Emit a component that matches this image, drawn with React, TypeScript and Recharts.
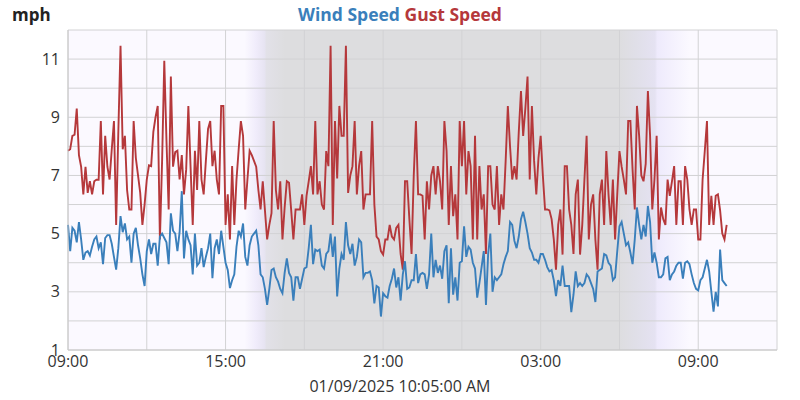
import { LineChart, Line, XAxis, YAxis, CartesianGrid } from "recharts";

// 5-minute samples starting 09:00, ending 10:05 next day
const windSpeed = [
  5.3, 4.4, 5.2, 5.1, 4.7, 5.4, 4.8, 4.1, 4.35, 4.4,
  4.25, 4.55, 4.8, 4.9, 4.5, 4.7, 3.95, 4.85, 4.95, 4.95,
  4.65, 4.2, 3.76, 4.5, 5.6, 5.05, 5.35, 4.8, 4.9, 4.0,
  5.0, 5.2, 4.6, 4.15, 3.6, 3.2, 4.4, 4.8, 4.3, 4.65,
  4.65, 3.9, 4.9, 5.0, 4.85, 4.7, 3.95, 5.7, 5.1, 5.0,
  4.4, 5.05, 6.46, 4.15, 5.1, 4.8, 4.6, 3.6, 5.0, 3.9,
  4.0, 4.5, 3.85, 4.2, 4.5, 5.0, 3.47, 4.5, 4.8, 4.3,
  5.1, 4.55, 4.0, 3.75, 3.13, 3.4, 3.6, 4.55, 5.1, 4.9,
  5.35, 4.2, 3.9, 4.6, 4.9, 5.0, 5.1, 4.6, 3.6, 3.5,
  3.1, 2.55, 3.1, 3.75, 3.8, 3.5, 3.35, 3.1, 2.95, 3.65,
  4.15, 3.65, 3.5, 2.7, 3.5, 3.5, 3.1, 3.45, 3.8, 3.85,
  4.5, 5.3, 3.95, 4.45, 4.4, 4.45, 3.9, 3.8, 4.3, 4.4,
  5.0, 4.2, 4.9, 2.84, 3.8, 4.3, 4.1, 5.4, 4.6, 4.3,
  4.65, 3.9, 4.2, 4.8, 4.7, 3.5, 3.65, 3.65, 3.7, 3.4,
  2.6, 3.2, 3.15, 2.15, 2.95, 2.85, 2.8, 3.2, 3.45, 3.8,
  3.15, 3.5, 2.7, 3.6, 4.05, 3.1, 3.15, 3.4, 3.4, 4.3,
  3.3, 3.6, 3.65, 3.6, 3.1, 3.6, 5.0, 3.5, 4.1, 3.65,
  3.9, 3.45, 4.4, 4.6, 2.61, 4.5, 2.9, 3.5, 2.7, 4.0,
  4.05, 5.25, 4.2, 4.55, 4.45, 4.0, 3.8, 2.8, 3.3, 3.85,
  4.4, 2.55, 4.3, 5.0, 3.0, 3.5, 3.4, 3.5, 3.6, 3.95,
  4.2, 4.4, 5.4, 5.3, 4.75, 4.5, 4.9, 5.5, 5.75, 5.4,
  5.0, 4.5, 4.35, 4.1, 4.1, 4.0, 4.3, 4.3, 4.1, 3.85,
  3.7, 3.75, 3.4, 2.85, 3.4, 3.2, 3.9, 3.2, 3.2, 3.2,
  2.3, 2.9, 3.7, 3.2, 3.3, 3.2, 3.3, 3.6, 3.5, 3.3,
  3.1, 2.65, 3.7, 3.75, 3.8, 4.3, 4.25, 4.0, 3.9, 3.4,
  3.5, 4.4, 5.25, 5.4, 5.0, 4.6, 4.7, 4.35, 3.95, 4.8,
  5.9, 5.3, 4.8, 5.3, 4.9, 5.95, 5.4, 4.0, 4.35, 4.0,
  3.5, 3.5, 3.6, 4.15, 4.2, 3.4, 3.6, 3.7, 3.9, 4.0,
  4.0, 3.45, 4.0, 4.05, 3.95, 3.6, 3.3, 3.1, 3.05, 3.4,
  3.5, 3.8, 4.1, 3.7, 3.0, 2.32, 3.0, 2.5, 4.45, 3.4,
  3.3, 3.2,
];

const gustSpeed = [
  7.85, 7.9, 8.36, 8.4, 9.3, 7.7, 7.3, 6.35, 7.3, 6.4,
  6.8, 6.35, 6.8, 6.85, 6.85, 8.87, 6.35, 8.36, 7.3, 6.86,
  7.9, 8.87, 5.3, 8.5, 11.46, 7.9, 8.36, 6.5, 5.83, 5.83,
  8.87, 7.6, 7.0, 6.4, 5.3, 6.0, 6.86, 7.35, 7.32, 8.5,
  9.0, 9.39, 4.8, 7.5, 10.94, 8.2, 5.83, 10.4, 7.3, 7.8,
  7.85, 6.86, 7.7, 6.35, 7.2, 9.39, 7.32, 5.3, 7.85, 6.5,
  8.87, 6.86, 6.35, 7.5, 8.6, 8.87, 7.32, 7.85, 6.86, 6.35,
  9.39, 9.39, 5.3, 6.35, 4.8, 7.32, 5.3, 6.86, 7.9, 8.87,
  8.36, 5.83, 6.86, 7.85, 7.7, 7.5, 7.3, 6.5, 5.83, 6.8,
  5.8, 4.8, 5.3, 5.7, 8.87, 6.5, 5.83, 6.8, 4.8, 5.9,
  6.8, 6.75, 5.8, 4.8, 5.83, 5.83, 5.83, 6.35, 5.3, 6.3,
  6.8, 7.32, 6.35, 8.87, 6.35, 6.8, 6.0, 5.83, 7.84, 7.32,
  11.46, 5.3, 8.87, 6.9, 9.39, 8.36, 8.36, 11.46, 6.4, 7.0,
  7.32, 8.87, 6.35, 7.32, 7.84, 5.83, 6.35, 6.35, 6.35, 8.87,
  6.0, 4.9, 4.8, 4.4, 4.28, 4.8, 4.8, 5.3, 4.9, 4.8,
  5.2, 5.3, 4.3, 3.76, 6.8, 6.8, 5.5, 4.3, 7.0, 8.87,
  6.35, 6.35, 6.3, 4.8, 6.8, 5.83, 7.0, 7.32, 6.35, 7.32,
  6.8, 5.83, 8.87, 7.84, 5.3, 7.32, 5.6, 6.35, 4.8, 8.87,
  7.32, 8.87, 6.35, 7.84, 7.32, 4.8, 8.36, 4.8, 7.32, 5.83,
  6.35, 4.3, 7.32, 7.32, 6.0, 5.83, 7.32, 5.3, 6.35, 5.83,
  7.5, 9.39, 8.0, 6.86, 7.32, 6.86, 8.5, 9.9, 8.36, 9.3,
  10.4, 6.86, 9.39, 7.5, 6.35, 7.6, 8.36, 7.0, 5.83, 5.83,
  5.8, 5.5, 4.8, 3.76, 5.3, 5.83, 4.28, 7.32, 7.32, 5.83,
  5.3, 4.3, 6.35, 6.86, 4.28, 5.3, 6.86, 8.36, 4.8, 6.0,
  6.35, 4.8, 3.76, 6.35, 6.86, 5.3, 7.84, 6.35, 5.3, 6.86,
  4.8, 6.35, 7.84, 7.3, 6.86, 6.35, 8.87, 8.87, 7.2, 5.83,
  9.39, 8.36, 7.0, 6.8, 7.4, 9.9, 8.36, 5.83, 6.86, 8.36,
  4.8, 5.9, 5.5, 5.3, 6.86, 6.3, 6.8, 7.32, 5.3, 6.8,
  6.8, 5.3, 7.32, 6.86, 5.83, 5.3, 5.83, 5.83, 4.8, 4.8,
  6.86, 7.84, 8.87, 5.3, 6.3, 5.3, 6.3, 6.35, 5.8, 5.0,
  4.8, 5.3,
];

// hours since 09:00
const xTicks = [0, 3, 6, 9, 12, 15, 18, 21, 24, 27];
const xTickLabels: Record<number, string> = { 0: "09:00", 6: "15:00", 12: "21:00", 18: "03:00", 24: "09:00" };
const yTicks = [1, 2, 3, 4, 5, 6, 7, 8, 9, 10, 11, 12];
const yTickLabels = [1, 3, 5, 7, 9, 11];

const FONT = "'Open Sans', 'Noto Sans', sans-serif";
const BLUE = "#3a7fbb";
const RED = "#b5383b";

const data = windSpeed.map((w, i) => ({ t: i / 12, wind: w, gust: gustSpeed[i] }));

const XTick = ({ x, y, payload }: any) => {
  const label = xTickLabels[payload.value];
  if (!label) return null;
  return (
    <text x={x} y={y + 9} textAnchor="middle" fontSize={16} fill="#333" fontFamily={FONT}>
      {label}
    </text>
  );
};

const YTick = ({ x, y, payload }: any) => {
  if (!yTickLabels.includes(payload.value)) return null;
  return (
    <text x={x} y={y} dy="0.35em" textAnchor="end" fontSize={16} fill="#333" fontFamily={FONT}>
      {payload.value}
    </text>
  );
};

export default function App() {
  return (
    <div style={{ position: "absolute", left: 0, top: 0, width: 800, height: 400, fontFamily: FONT }}>
      <div style={{ position: "absolute", left: 12, top: 3, fontSize: 17, fontWeight: 700, color: "#222" }}>mph</div>
      <div style={{ position: "absolute", left: 0, width: 800, top: 2, textAlign: "center", fontSize: 17.5, fontWeight: 700 }}>
        <span style={{ color: BLUE }}>Wind Speed</span> <span style={{ color: RED }}>Gust Speed</span>
      </div>
      <LineChart width={800} height={400} data={data} margin={{ top: 30, right: 23, left: 8, bottom: 20 }}>
        <defs>
          <linearGradient id="dayNight" x1="0" y1="0" x2="1" y2="0">
            <stop offset="0" stopColor="#fbf9ff" />
            <stop offset="0.249" stopColor="#fbf9ff" />
            <stop offset="0.265" stopColor="#f0ecfb" />
            <stop offset="0.277" stopColor="#e7e4f2" />
            <stop offset="0.28" stopColor="#e2e1e8" />
            <stop offset="0.306" stopColor="#dddddf" />
            <stop offset="0.776" stopColor="#dddddf" />
            <stop offset="0.801" stopColor="#e0dfe8" />
            <stop offset="0.828" stopColor="#e5e2f2" />
            <stop offset="0.831" stopColor="#eeeafc" />
            <stop offset="0.877" stopColor="#fbf9ff" />
            <stop offset="1" stopColor="#fbf9ff" />
          </linearGradient>
        </defs>
        <CartesianGrid fill="url(#dayNight)" stroke="#d2d2d4" strokeWidth={1} />
        <XAxis
          dataKey="t"
          type="number"
          domain={[0, 27]}
          ticks={xTicks}
          interval={0}
          tick={<XTick />}
          tickLine={false}
          axisLine={{ stroke: "#c8c8c8" }}
          height={30}
        />
        <YAxis
          type="number"
          domain={[1, 12]}
          ticks={yTicks}
          interval={0}
          tick={<YTick />}
          tickLine={false}
          axisLine={{ stroke: "#c8c8c8" }}
          width={60}
        />
        <Line type="linear" dataKey="gust" stroke={RED} strokeWidth={1.9} dot={false} isAnimationActive={false} />
        <Line type="linear" dataKey="wind" stroke={BLUE} strokeWidth={1.9} dot={false} isAnimationActive={false} />
      </LineChart>
      <div style={{ position: "absolute", left: 0, width: 800, top: 375, textAlign: "center", fontSize: 16, color: "#333" }}>
        01/09/2025 10:05:00 AM
      </div>
    </div>
  );
}
